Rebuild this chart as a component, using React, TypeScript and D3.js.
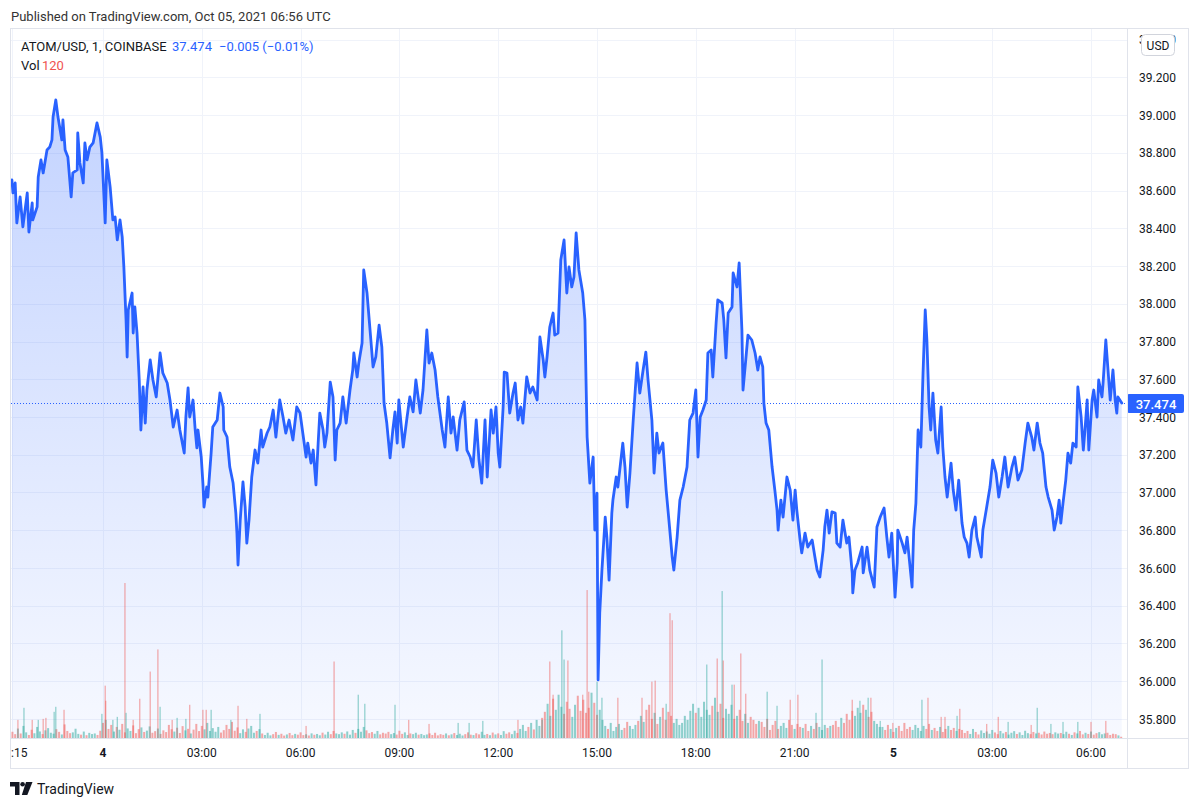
import React from 'react';
import * as d3 from 'd3';

// ---------- DATA ----------
// minutes since 2021-10-04 00:00 UTC
const priceMinutes = [
  -166, -164, -160, -157, -151, -146, -138, -135, -129, -128, -120, -118, -113, -109, -102, -97, -93, -91, -86, -82,
  -75, -73, -69, -64, -58, -55, -47, -46, -42, -36, -33, -29, -24, -18, -11, -5, -2, 4, 7, 13,
  18, 22, 26, 31, 35, 38, 42, 44, 46, 53, 55, 58, 62, 66, 69, 73, 77, 80, 86, 91,
  97, 104, 109, 117, 122, 128, 135, 140, 148, 151, 155, 158, 164, 168, 171, 173, 179, 182, 184, 189,
  191, 197, 200, 208, 213, 219, 220, 226, 231, 237, 242, 244, 246, 250, 255, 259, 262, 266, 271, 277,
  282, 288, 291, 299, 304, 310, 315, 322, 328, 333, 339, 346, 353, 359, 364, 370, 373, 379, 383, 388,
  392, 395, 401, 404, 408, 414, 419, 423, 426, 432, 437, 443, 450, 455, 457, 463, 466, 472, 475, 481,
  485, 492, 497, 503, 508, 512, 517, 523, 528, 532, 536, 539, 547, 554, 559, 565, 570, 578, 583, 590,
  594, 599, 605, 610, 618, 623, 629, 634, 638, 645, 650, 658, 663, 669, 674, 680, 685, 690, 696, 700,
  707, 711, 716, 720, 723, 729, 731, 736, 741, 747, 751, 756, 761, 765, 772, 778, 783, 791, 796, 802,
  805, 809, 814, 820, 823, 829, 834, 840, 845, 849, 854, 858, 862, 867, 874, 878, 880, 882, 887, 893,
  896, 900, 902, 905, 909, 915, 918, 922, 927, 929, 935, 938, 947, 951, 955, 960, 966, 973, 978, 984,
  989, 993, 1000, 1004, 1009, 1013, 1020, 1026, 1031, 1037, 1040, 1046, 1051, 1057, 1064, 1069, 1075, 1080, 1084, 1088,
  1093, 1099, 1102, 1108, 1111, 1117, 1120, 1128, 1131, 1135, 1139, 1146, 1148, 1155, 1159, 1164, 1166, 1171, 1175, 1182,
  1188, 1193, 1197, 1202, 1204, 1208, 1213, 1219, 1224, 1228, 1230, 1235, 1239, 1246, 1252, 1257, 1261, 1264, 1270, 1273,
  1279, 1284, 1292, 1297, 1301, 1306, 1312, 1315, 1319, 1323, 1328, 1334, 1337, 1343, 1348, 1355, 1359, 1365, 1366, 1370,
  1375, 1383, 1385, 1392, 1397, 1405, 1410, 1416, 1423, 1428, 1432, 1437, 1443, 1447, 1448, 1456, 1461, 1465, 1474, 1477,
  1481, 1485, 1490, 1494, 1498, 1501, 1505, 1508, 1512, 1517, 1521, 1527, 1530, 1534, 1538, 1545, 1549, 1554, 1559, 1565,
  1569, 1574, 1578, 1583, 1589, 1592, 1600, 1603, 1610, 1616, 1621, 1627, 1632, 1638, 1643, 1649, 1656, 1661, 1667, 1674,
  1680, 1685, 1692, 1696, 1702, 1707, 1712, 1718, 1722, 1729, 1733, 1738, 1742, 1745, 1749, 1754, 1758, 1763, 1767, 1773,
  1776, 1782, 1786, 1789, 1793, 1796, 1802, 1805, 1811, 1814, 1820, 1822, 1827, 1831, 1835, 1840, 1844, 1847, 1849, 1856,
];

const priceValues = [
  38.656, 38.587, 38.640, 38.428, 38.566, 38.407, 38.587, 38.380, 38.534, 38.444, 38.513, 38.672, 38.762, 38.693, 38.815, 38.830, 38.868, 38.989, 39.080, 38.989,
  38.868, 38.974, 38.815, 38.778, 38.566, 38.693, 38.709, 38.905, 38.746, 38.640, 38.852, 38.762, 38.830, 38.852, 38.958, 38.883, 38.799, 38.428, 38.762, 38.619,
  38.444, 38.460, 38.338, 38.444, 38.354, 38.195, 37.914, 37.718, 37.967, 38.057, 37.845, 37.983, 37.845, 37.596, 37.331, 37.559, 37.368, 37.543, 37.702, 37.596,
  37.506, 37.739, 37.633, 37.580, 37.490, 37.347, 37.437, 37.331, 37.209, 37.400, 37.554, 37.400, 37.490, 37.331, 37.236, 37.331, 37.188, 37.050, 36.923, 37.029,
  36.976, 37.209, 37.347, 37.384, 37.527, 37.453, 37.331, 37.294, 37.135, 37.050, 36.891, 36.785, 36.616, 36.854, 37.056, 36.923, 36.732, 36.854, 37.082, 37.225,
  37.156, 37.331, 37.241, 37.315, 37.347, 37.437, 37.294, 37.490, 37.400, 37.315, 37.384, 37.278, 37.453, 37.421, 37.315, 37.188, 37.262, 37.156, 37.225, 37.040,
  37.262, 37.421, 37.331, 37.241, 37.315, 37.585, 37.506, 37.172, 37.331, 37.368, 37.506, 37.368, 37.543, 37.649, 37.739, 37.612, 37.686, 37.792, 38.179, 38.057,
  37.914, 37.665, 37.718, 37.887, 37.771, 37.474, 37.368, 37.183, 37.331, 37.427, 37.262, 37.490, 37.241, 37.400, 37.506, 37.427, 37.596, 37.421, 37.543, 37.861,
  37.686, 37.739, 37.649, 37.506, 37.331, 37.241, 37.506, 37.315, 37.400, 37.225, 37.384, 37.480, 37.225, 37.188, 37.135, 37.384, 37.172, 37.050, 37.384, 37.082,
  37.437, 37.315, 37.453, 37.209, 37.135, 37.453, 37.638, 37.633, 37.421, 37.527, 37.580, 37.384, 37.453, 37.368, 37.612, 37.527, 37.559, 37.490, 37.824, 37.702,
  37.612, 37.718, 37.877, 37.951, 37.834, 37.845, 38.232, 38.338, 38.057, 38.195, 38.089, 38.142, 38.375, 38.179, 38.057, 37.914, 37.596, 37.294, 37.050, 37.188,
  36.801, 36.997, 36.007, 36.362, 36.589, 36.870, 36.764, 36.536, 36.891, 36.960, 37.082, 37.029, 37.262, 37.135, 36.923, 37.103, 37.384, 37.686, 37.527, 37.649,
  37.744, 37.596, 37.384, 37.103, 37.315, 37.209, 37.262, 37.013, 36.854, 36.658, 36.589, 36.764, 36.960, 37.029, 37.135, 37.384, 37.421, 37.543, 37.188, 37.400,
  37.437, 37.490, 37.739, 37.755, 37.612, 37.898, 38.020, 38.004, 37.914, 37.713, 37.951, 37.983, 38.163, 38.089, 38.216, 37.861, 37.543, 37.702, 37.834, 37.808,
  37.739, 37.649, 37.718, 37.665, 37.474, 37.368, 37.331, 37.135, 37.013, 36.907, 36.801, 36.960, 36.870, 37.082, 37.013, 36.854, 37.013, 36.907, 36.748, 36.680,
  36.785, 36.711, 36.748, 36.658, 36.589, 36.552, 36.695, 36.817, 36.907, 36.785, 36.897, 36.891, 36.732, 36.711, 36.854, 36.732, 36.764, 36.574, 36.468, 36.589,
  36.627, 36.711, 36.574, 36.711, 36.589, 36.499, 36.817, 36.870, 36.918, 36.764, 36.658, 36.785, 36.446, 36.627, 36.801, 36.732, 36.680, 36.764, 36.499, 36.801,
  36.944, 37.331, 37.241, 37.633, 37.967, 37.808, 37.453, 37.331, 37.527, 37.278, 37.209, 37.453, 37.241, 37.082, 36.976, 37.156, 37.013, 36.907, 37.066, 36.838,
  36.764, 36.732, 36.658, 36.801, 36.870, 36.764, 36.658, 36.801, 36.923, 37.029, 37.172, 37.103, 36.976, 37.082, 37.188, 37.029, 37.135, 37.188, 37.066, 37.119,
  37.262, 37.368, 37.294, 37.225, 37.368, 37.262, 37.209, 37.029, 36.976, 36.907, 36.801, 36.870, 36.960, 36.838, 36.944, 37.066, 37.209, 37.156, 37.262, 37.241,
  37.559, 37.400, 37.225, 37.331, 37.490, 37.225, 37.490, 37.543, 37.400, 37.596, 37.506, 37.580, 37.808, 37.649, 37.490, 37.649, 37.490, 37.421, 37.506, 37.474,
];

// background volume, one bar per 5 minutes starting at 21:15 (minute -165)
const volumeStartMinute = -165;
const volumeStepMinutes = 5;
const volumeBackground = [
  620, 380, 940, 450, 1200, 560, 300, 820, 470, 1100, 650, 390, 760, 980, 520, 430, 880, 610, 350, 1350, 700, 480, 560, 920, 410, 330, 640, 280, 510, 390, 450, 300, 720,
  1500, 1800, 900, 1300, 640, 1100, 820, 1400, 560, 950, 700, 1250, 480, 880, 1050, 600, 730, 1150, 520, 680, 940, 410, 760, 590, 1300, 870, 640, 1020, 500, 1180, 760, 910, 450, 830, 1400, 690,
  1200, 860, 1500, 700, 980, 620, 1100, 540, 780, 1300, 900, 1600, 720, 1050, 480, 860, 610, 940, 1200, 520, 700, 880,
  450, 300, 520, 260, 380, 600, 310, 420, 240, 350, 500, 280, 410, 330, 560, 290, 370, 250, 460, 320, 400, 270, 530, 340, 620, 380,
  700, 450, 380, 560, 420, 650, 330, 800, 510, 900, 620, 1100, 760, 480, 590, 420, 700, 360, 520, 440, 610, 380, 490, 340, 720, 410, 560, 300, 450, 380, 520, 330,
  400, 280, 350, 460, 300, 520, 260, 380, 310, 450, 270, 360, 490, 300, 420, 250, 380, 560, 330, 290, 470, 360, 620, 310, 400, 280, 540, 350, 460, 300, 680, 420, 560, 380, 720, 500,
  900, 1300, 700, 1100, 1500, 850, 1800, 1200, 2000,
  2600, 3400, 2200, 3900, 2800, 4300, 3100, 2400, 3600, 2900, 2100, 3300, 4200, 2700, 3800, 2500, 3000, 4500, 3500, 2300, 2800,
  1800, 1200, 900, 1500, 700, 1100, 1400, 800, 1000, 1600, 1200, 900, 1300, 1700,
  2200, 1600, 2800, 3300, 1900, 2500, 1400, 2100, 3000, 1800, 2600, 2200, 1500, 1900, 1300,
  1500, 2200, 1800, 2700, 3400, 2500, 3000, 2100, 3600, 2800, 2300, 3200, 4000, 2600, 3400, 2000, 2900, 2400, 3300, 1900, 2200, 2800, 1700, 2400, 1500, 2100, 1800, 1400, 1700,
  1600, 1100, 1900, 800, 1300, 1700, 900, 1200, 1500, 1000, 1800, 1300, 900, 1400, 1100,
  1000, 1400, 700, 1200, 900, 1500, 1100, 800, 1300, 1000, 1200,
  1300, 1700, 1100, 2000, 1500, 2400, 1800, 2700, 2200, 3000, 2500, 3300, 2800, 2100, 2600, 1700, 1400, 1100,
  1100, 800, 1300, 900, 600, 1000, 1200, 700, 1500, 900, 1100, 800, 1300, 1000, 700, 1200, 900, 1400, 800, 1000, 700, 1100, 600, 900, 1200, 800, 1000, 700, 900,
  800, 500, 700, 400, 900, 600, 350, 750, 500, 650, 420, 800, 550, 380, 700, 460, 600, 340, 520, 680, 400, 560, 300, 720, 480, 380, 600, 450, 520, 350, 640, 420, 500, 380, 560, 440,
  500, 380, 620, 420, 300, 560, 450, 700, 360, 520, 400, 640, 330, 480, 580, 370, 450, 520, 300, 420, 380, 260, 120,
];

// individual volume spikes
const spikeMinutes = [
  -155, -144, -129, -118, -109, -104, -89, -86, -71, -2,
  4, 5, 18, 26, 40, 42, 55, 67, 86, 100,
  104, 126, 135, 151, 158, 182, 188, 197, 233, 246,
  262, 286, 370, 421, 465, 477, 532, 557, 594, 647,
  667, 692, 756, 800, 814, 820, 836, 840, 847, 874,
  882, 885, 900, 909, 938, 982, 1000, 1006, 1026, 1033,
  1037, 1100, 1119, 1128, 1130, 1146, 1150, 1162, 1171, 1210,
  1228, 1252, 1266, 1299, 1310, 1365, 1379, 1394, 1399, 1416,
  1439, 1492, 1503, 1527, 1534, 1556, 1561, 1610, 1631, 1649,
  1691, 1702, 1727, 1749, 1776, 1800, 1827,
];
const spikeVolumes = [
  1800, 3000, 1800, 1800, 1900, 2000, 2600, 3100, 2800, 2400,
  5200, 3700, 1800, 2100, 15400, 2500, 1800, 3900, 6600, 8800,
  3100, 1800, 2000, 1900, 3300, 2800, 2800, 2800, 1800, 3200,
  1900, 2400, 1200, 7600, 4300, 3400, 3300, 1800, 1400, 1500,
  1500, 1700, 1800, 1800, 7600, 4300, 10700, 7800, 7700, 4300,
  14700, 4600, 5600, 4000, 4000, 4000, 5600, 5700, 3400, 12400,
  11700, 7300, 7900, 14600, 7700, 5300, 5300, 8400, 4400, 4600,
  3200, 3800, 4300, 2500, 7800, 3800, 3700, 4000, 4000, 1700,
  1500, 3800, 4000, 2100, 2100, 2200, 2900, 1400, 2100, 1600,
  1300, 3000, 1400, 1600, 1600, 1600, 1700,
];
// r = down (red), g = up (teal)
const spikeDirections =
  'rgrgrrggrg' + 'rrggrgrrrr' + 'grggrrrggr' + 'rgrrgggrrg' + 'ggrgrrggrr' +
  'rrggrrrrgr' + 'rgrgrgrrrg' + 'grrggrggrg' + 'rgrrrgrrrg' + 'rggggrr';

const priceTicks = [35.8, 36.0, 36.2, 36.4, 36.6, 36.8, 37.0, 37.2, 37.4, 37.6, 37.8, 38.0, 38.2, 38.4, 38.6, 38.8, 39.0, 39.2, 39.4];
const timeTickMinutes = [-165, 0, 180, 360, 540, 720, 900, 1080, 1260, 1440, 1620, 1800];
const timeTickLabels = ['21:15', '4', '03:00', '06:00', '09:00', '12:00', '15:00', '18:00', '21:00', '5', '03:00', '06:00'];
const dayLabels = ['4', '5'];

const headerText = 'Published on TradingView.com, Oct 05, 2021 06:56 UTC';
const symbolText = 'ATOM/USD, 1, COINBASE';
const lastPrice = 37.474;
const changeText = '\u22120.005 (\u22120.01%)';
const currencyText = 'USD';

// ---------- COMPONENT ----------
const FONT = 'Roboto, "Noto Sans", sans-serif';
const TEXT = '#131722';
const BLUE = '#2962ff';
const UP = 'rgba(38,166,154,0.5)';
const DOWN = 'rgba(239,83,80,0.5)';
const BORDER = '#e0e3eb';
const GRID = '#f0f3fa';

export default function App() {
  const W = 1200;
  const H = 807;
  const L = 11, R = 1127, T = 29, B = 738;
  const base = Date.UTC(2021, 9, 4);
  const toDate = (m: number) => new Date(base + m * 60000);

  const x = d3.scaleTime().domain([toDate(0), toDate(1800)]).range([103, 1091]);
  const y = d3.scaleLinear().domain([35.8, 39.2]).range([719, 77.25]);

  const pts = priceMinutes.map((m, i) => ({ t: toDate(m), p: priceValues[i] }));
  const linePath = d3.line<{ t: Date; p: number }>().x(d => x(d.t)).y(d => y(d.p))(pts) || '';
  const areaPath = d3.area<{ t: Date; p: number }>().x(d => x(d.t)).y0(B).y1(d => y(d.p))(pts) || '';

  const priceAt = (m: number) => {
    const i = d3.bisectLeft(priceMinutes, m);
    if (i <= 0) return priceValues[0];
    if (i >= priceMinutes.length) return priceValues[priceValues.length - 1];
    const m0 = priceMinutes[i - 1], m1 = priceMinutes[i];
    const f = (m - m0) / (m1 - m0);
    return priceValues[i - 1] + f * (priceValues[i] - priceValues[i - 1]);
  };

  const bg = volumeBackground.map((v, i) => {
    const m = volumeStartMinute + i * volumeStepMinutes;
    return { t: toDate(m), v, up: priceAt(m + 2) >= priceAt(m - 2) };
  });
  const spikes = spikeMinutes.map((m, i) => ({ t: toDate(m), v: spikeVolumes[i], up: spikeDirections[i] === 'g' }));
  const maxVol = d3.max([...bg, ...spikes], d => d.v) || 1;
  const yv = d3.scaleLinear().domain([0, maxVol]).range([B, 583]);

  const lastY = Math.round(y(lastPrice)) + 0.5;
  const lastVol = volumeBackground[volumeBackground.length - 1];

  const topPrice = d3.max(pts, d => d.p) || 39;

  return (
    <div style={{ position: 'absolute', left: 0, top: 0 }}>
      <svg width={W} height={H} viewBox={`0 0 ${W} ${H}`} style={{ display: 'block', background: '#fff' }}>
        <defs>
          <clipPath id="plotClip">
            <rect x={L} y={T} width={R - L} height={B - T} />
          </clipPath>
          <clipPath id="timeClip">
            <rect x={L} y={B} width={R - L} height={30} />
          </clipPath>
          <clipPath id="axisClip">
            <rect x={R} y={T} width={1188 - R} height={B - T} />
          </clipPath>
          <linearGradient id="areaGrad" gradientUnits="userSpaceOnUse" x1="0" x2="0" y1={y(topPrice)} y2={B}>
            <stop offset="0" stopColor="rgba(41,98,255,0.28)" />
            <stop offset="1" stopColor="rgba(41,98,255,0.04)" />
          </linearGradient>
        </defs>

        {/* header */}
        <text x={11} y={21} fontFamily={FONT} fontSize={13} fill="#333">{headerText}</text>

        {/* grid */}
        <g clipPath="url(#plotClip)">
          {priceTicks.map(p => (
            <line key={'h' + p} x1={L} x2={R} y1={Math.round(y(p)) + 0.5} y2={Math.round(y(p)) + 0.5} stroke={GRID} strokeWidth={1} />
          ))}
          {timeTickMinutes.map(m => (
            <line key={'v' + m} x1={Math.round(x(toDate(m))) + 0.5} x2={Math.round(x(toDate(m))) + 0.5} y1={T} y2={B} stroke={GRID} strokeWidth={1} />
          ))}
        </g>

        {/* area, volume, line */}
        <g clipPath="url(#plotClip)">
          <path d={areaPath} fill="url(#areaGrad)" stroke="none" />
          {bg.map((d, i) => (
            <rect key={'b' + i} x={x(d.t) - 1} y={yv(d.v)} width={2} height={B - yv(d.v)} fill={d.up ? UP : DOWN} />
          ))}
          {spikes.map((d, i) => (
            <rect key={'s' + i} x={x(d.t) - 0.6} y={yv(d.v)} width={1.2} height={B - yv(d.v)} fill={d.up ? UP : DOWN} />
          ))}
          <path d={linePath} fill="none" stroke={BLUE} strokeWidth={2.8} strokeLinejoin="round" strokeLinecap="round" />
          <line x1={L} x2={R} y1={lastY} y2={lastY} stroke={BLUE} strokeWidth={1} strokeDasharray="1 2" />
        </g>

        {/* legend */}
        <text x={21} y={51} fontFamily={FONT} fontSize={13} fill={TEXT}>{symbolText}</text>
        <text x={172} y={51} fontFamily={FONT} fontSize={13} fill={BLUE}>{lastPrice.toFixed(3)}</text>
        <text x={219} y={51} fontFamily={FONT} fontSize={13} fill={BLUE}>{changeText}</text>
        <text x={21} y={70} fontFamily={FONT} fontSize={13} fill={TEXT}>Vol</text>
        <text x={42} y={70} fontFamily={FONT} fontSize={13} fill="#ef5350">{lastVol}</text>

        {/* price axis */}
        <g clipPath="url(#axisClip)">
          {priceTicks.map(p => (
            <text key={'pt' + p} x={1139} y={y(p) + 4.5} fontFamily={FONT} fontSize={12} fill={TEXT}>{p.toFixed(3)}</text>
          ))}
        </g>
        <rect x={1141.5} y={34.5} width={33} height={21} rx={4} fill="#fff" stroke="#d1d4dc" />
        <text x={1158} y={49.5} textAnchor="middle" fontFamily={FONT} fontSize={12} fill={TEXT}>{currencyText}</text>
        <rect x={R} y={lastY - 9.5} width={57} height={19} rx={2} fill={BLUE} />
        <text x={R + 29} y={lastY + 5} textAnchor="middle" fontFamily={FONT} fontSize={13} fontWeight={500} fill="#fff">{lastPrice.toFixed(3)}</text>

        {/* time axis */}
        <g clipPath="url(#timeClip)">
          {timeTickMinutes.map((m, i) => (
            <text key={'tt' + i} x={x(toDate(m))} y={757} textAnchor="middle" fontFamily={FONT} fontSize={12}
              fontWeight={dayLabels.includes(timeTickLabels[i]) ? 700 : 400} fill={TEXT}>{timeTickLabels[i]}</text>
          ))}
        </g>

        {/* frame & separators */}
        <rect x={10.5} y={28.5} width={1178} height={740} fill="none" stroke={BORDER} />
        <line x1={R + 0.5} x2={R + 0.5} y1={28.5} y2={768.5} stroke={BORDER} />
        <line x1={10.5} x2={1188.5} y1={B + 0.5} y2={B + 0.5} stroke={BORDER} />

        {/* footer logo */}
        <g fill={TEXT}>
          <path d="M10 782 H19.5 V795 H15 V786.5 H10 Z" />
          <circle cx={22.6} cy={784.3} r={2.3} />
          <path d="M26 782 H32.5 L27.3 795 H21.8 Z" />
        </g>
        <text x={37} y={794} fontFamily={FONT} fontSize={14} fill={TEXT}>TradingView</text>
      </svg>
    </div>
  );
}
